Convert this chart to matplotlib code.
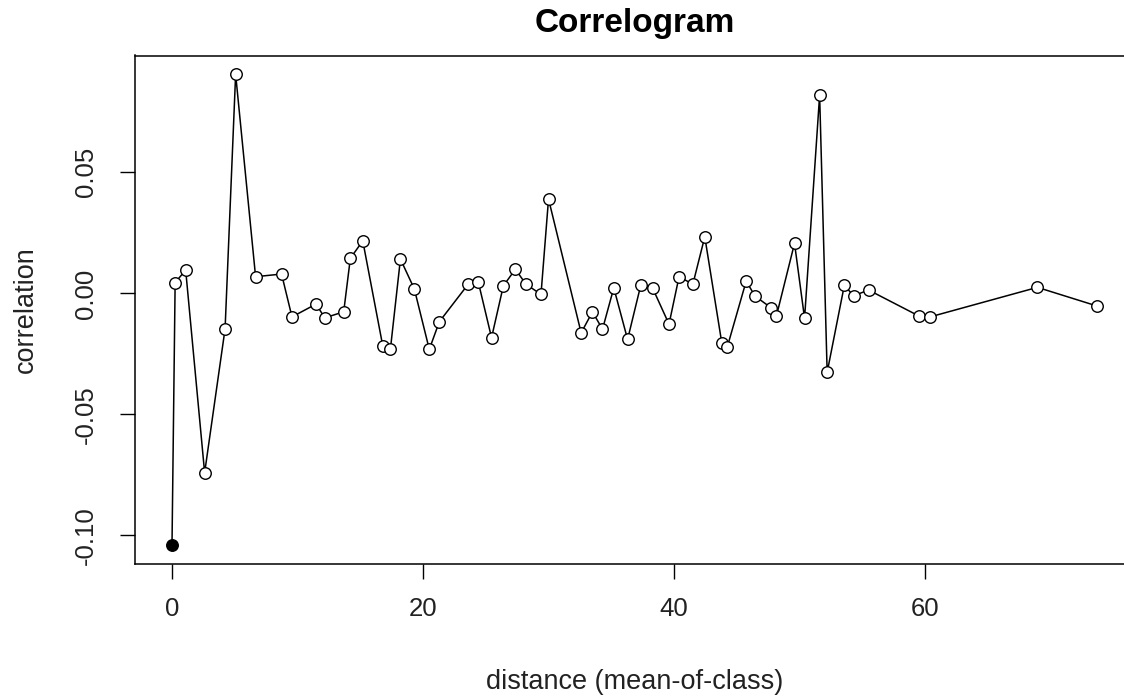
import matplotlib
matplotlib.use("Agg")
import matplotlib.pyplot as plt

plt.rcParams['font.family'] = ['Liberation Sans', 'DejaVu Sans']

# correlogram values
dist = [0.0, 0.25, 1.09, 2.6, 4.23, 5.07, 6.66, 8.73, 9.56, 11.48, 12.17, 13.68,
        14.21, 15.2, 16.79, 17.4, 18.2, 19.31, 20.5, 21.3, 23.6, 24.4, 25.46,
        26.4, 27.36, 28.2, 29.4, 30.0, 32.6, 33.5, 34.3, 35.2, 36.3, 37.35,
        38.3, 39.6, 40.4, 41.5, 42.45, 43.8, 44.25, 45.75, 46.45, 47.75, 48.15,
        49.6, 50.4, 51.6, 52.2, 53.57, 54.3, 55.5, 59.5, 60.4, 68.95, 73.7]
corr = [-0.104, 0.0045, 0.0096, -0.0741, -0.0146, 0.0905, 0.0069, 0.0080,
        -0.0097, -0.0044, -0.0101, -0.0076, 0.0145, 0.0217, -0.0216, -0.0231,
        0.0142, 0.0018, -0.0231, -0.0117, 0.0038, 0.0048, -0.0183, 0.0031,
        0.0100, 0.0038, -0.0004, 0.039, -0.0163, -0.0076, -0.0148, 0.0023,
        -0.019, 0.0034, 0.0021, -0.0127, 0.0069, 0.0038, 0.0234, -0.0203,
        -0.022, 0.0051, -0.0011, -0.006, -0.0095, 0.0207, -0.0103, 0.0819,
        -0.0326, 0.0034, -0.001, 0.0014, -0.0093, -0.0097, 0.0025, -0.0052]
signif = [True] + [False] * (len(dist) - 1)   # filled = significant class

xticks = [0, 20, 40, 60]
yticks = [-0.10, -0.05, 0.00, 0.05]
ytick_labels = ['-0.10', '-0.05', '0.00', '0.05']

W, H = 1124, 700
fig = plt.figure(figsize=(W / 100, H / 100), dpi=100)
# plot region runs past the right edge, as in the reference
ax = fig.add_axes([135 / W, 1 - 564 / H, 999 / W, 508.5 / H])

ax.plot(dist, corr, color='black', lw=1.1, zorder=2)
opn_x = [d for d, s in zip(dist, signif) if not s]
opn_y = [c for c, s in zip(corr, signif) if not s]
fil_x = [d for d, s in zip(dist, signif) if s]
fil_y = [c for c, s in zip(corr, signif) if s]
ax.plot(opn_x, opn_y, 'o', ms=8.3, mfc='white', mec='black', mew=1.0, zorder=3)
ax.plot(fil_x, fil_y, 'o', ms=8.3, mfc='black', mec='black', mew=1.0, zorder=3)

# R style 4% padding
xr = max(dist) - min(dist)
yr = max(corr) - min(corr)
ax.set_xlim(min(dist) - 0.04 * xr, max(dist) + 0.04 * xr)
ax.set_ylim(min(corr) - 0.04 * yr, max(corr) + 0.04 * yr)

ax.set_xticks(xticks)
ax.set_yticks(yticks)
ax.set_yticklabels(ytick_labels, rotation=90, va='center')
ax.tick_params(axis='both', direction='out', length=11, width=1.0,
               labelsize=18.5, colors='black', labelcolor='#222222')
ax.tick_params(axis='x', pad=13)
ax.tick_params(axis='y', pad=16)
for sp in ax.spines.values():
    sp.set_linewidth(1.1)

fig.text(634.5 / W, 1 - 32 / H, 'Correlogram', ha='center', va='baseline',
         fontsize=24, fontweight='bold')
fig.text(634.5 / W, 1 - 682 / H, 'distance (mean-of-class)', ha='center',
         va='center', fontsize=19.5, color='#222222')
fig.text(26 / W, 1 - 310 / H, 'correlation', ha='center', va='center',
         rotation=90, fontsize=19.5, color='#222222')

fig.savefig('out.png', dpi=100)
